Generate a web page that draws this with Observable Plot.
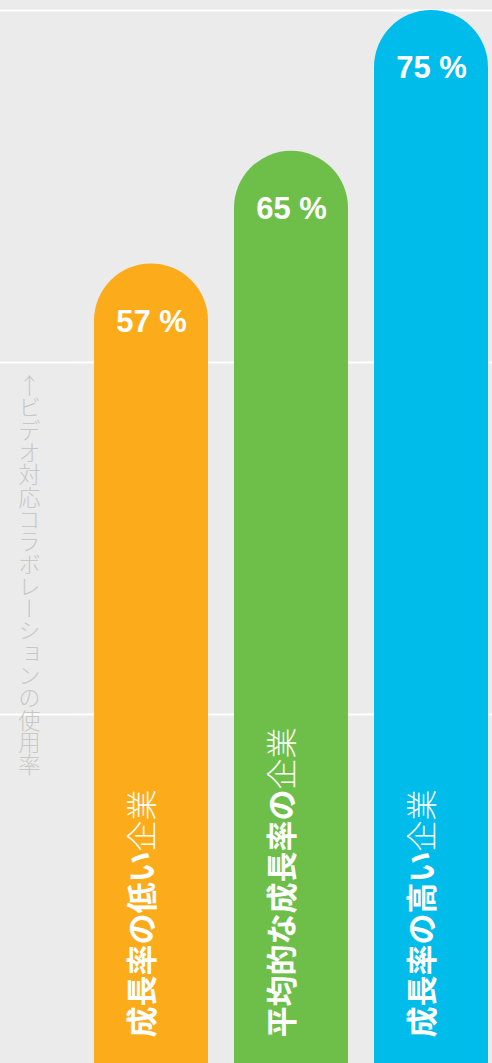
<!DOCTYPE html>
<html><head><meta charset="utf-8">
<script src="https://cdn.jsdelivr.net/npm/d3@7"></script>
<script src="https://cdn.jsdelivr.net/npm/@observablehq/plot@0.6"></script>
<style>
html,body{margin:0;padding:0;background:#ebebeb;}
svg{overflow:hidden;display:block;}
</style></head><body><div id="chart"></div>
<script>
const categories = ["low", "average", "high"];
const categoryLabels = ["成長率の低い", "平均的な成長率の", "成長率の高い"];
const categorySuffix = "企業";
const values = [57, 65, 75];
const valueLabels = ["57 %", "65 %", "75 %"];
const colors = ["#FCAC1A", "#6DBF4A", "#00BCEB"];
const yTicks = [25, 50, 75];
const yLabel = "↑ビデオ対応コラボレーションの使用率";

const data = categories.map((c, i) => ({category: c, value: values[i], label: valueLabels[i], name: categoryLabels[i]}));

const plot = Plot.plot({
  width: 492, height: 1063, margin: 0,
  style: {background: "#ebebeb", overflow: "hidden"},
  x: {type: "band", domain: categories, range: [94, 488], paddingInner: 26 / 140, paddingOuter: 0, axis: null},
  y: {domain: [0, 75], range: [1066, 10], axis: null},
  color: {type: "ordinal", domain: categories, range: colors},
  marks: [
    Plot.ruleY(yTicks, {stroke: "white", strokeWidth: 2}),
    Plot.barY(data, {x: "category", y: "value", fill: "category", rx: 57, ry: 57, insetBottom: -80}),
    Plot.text(data, {x: "category", y: "value", text: "label", dy: 58, fill: "white", fontWeight: "bold", fontSize: 31, fontFamily: "'Liberation Sans', Arial, sans-serif", lineAnchor: "middle"}),
    Plot.text(data, {x: "category", y: 0, text: "name", rotate: -90, textAnchor: "start", lineAnchor: "middle", dx: -8, dy: -29, fill: "white", fontWeight: "bold", fontSize: 31, fontFamily: "'Noto Sans CJK JP', sans-serif"}),
    Plot.text([yLabel], {frameAnchor: "top-left", text: d => d, dx: 29, dy: 374, fill: "#c8c8c8", fontSize: 22.3, fontWeight: 300, fontFamily: "'Noto Sans CJK JP', sans-serif"})
  ]
});

d3.select(plot).selectAll("text").each(function () {
  const t = this.textContent;
  if (categoryLabels.includes(t)) {
    d3.select(this).append("tspan").attr("font-weight", 300).text(categorySuffix);
  }
  if (t === yLabel) {
    d3.select(this).attr("y", null).attr("dy", null)
      .style("writing-mode", "vertical-rl").style("text-orientation", "upright")
      .attr("text-anchor", "start");
  }
});

document.getElementById("chart").appendChild(plot);
</script></body></html>
